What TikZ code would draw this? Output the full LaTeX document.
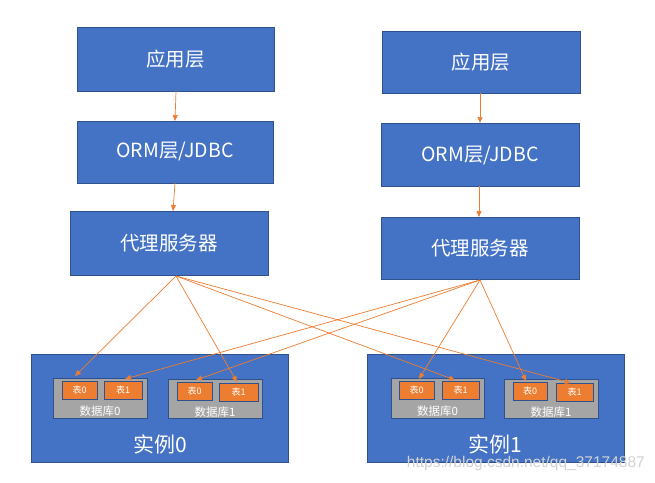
\documentclass[tikz,border=0pt]{standalone}
\usepackage{fontspec}
\setmainfont{Noto Sans CJK SC}
\newfontfamily\wmfont{Liberation Sans}
\usetikzlibrary{arrows.meta}
\definecolor{bblue}{HTML}{4472C4}
\definecolor{bborder}{HTML}{2F528F}
\definecolor{oorange}{HTML}{ED7D31}
\definecolor{ggray}{HTML}{A5A5A5}
\tikzset{
  layer/.style={draw=bborder, fill=bblue, line width=0.8pt},
  dbbox/.style={draw=bborder, fill=ggray, line width=0.8pt},
  tbl/.style={draw=bborder, fill=oorange, line width=0.8pt},
  lbl/.style={text=white, font=\fontsize{19.5}{22}\selectfont, inner sep=0pt},
  dblbl/.style={text=white, font=\fontsize{11.5}{13}\selectfont, inner sep=0pt},
  tbllbl/.style={text=white, font=\fontsize{9}{10}\selectfont, inner sep=0pt},
  conn/.style={draw=oorange, line width=0.7pt, -{Triangle[length=6pt,width=5pt]}},
}
\begin{document}
\begin{tikzpicture}[x=1pt,y=-1pt]
\useasboundingbox (0,0) rectangle (655,482);
\fill[white] (0,0) rectangle (655,482);
% left column
\draw[layer] (77,27) rectangle (274,91);
\node[lbl] (la) at (175.5,59) {应用层};
\coordinate (laB) at (176,91);
\draw[layer] (77,121) rectangle (273,183);
\node[lbl] (lo) at (175,152) {ORM层/JDBC};
\coordinate (loT) at (175,121);
\coordinate (loB) at (175,183);
\draw[layer] (70,211) rectangle (268,275);
\node[lbl] (lp) at (169,243) {代理服务器};
\coordinate (lpT) at (173,211);
\coordinate (lpB) at (176,276);
% right column
\draw[layer] (382,31) rectangle (580,93);
\node[lbl] (ra) at (481,62) {应用层};
\coordinate (raB) at (480,93);
\draw[layer] (381,123) rectangle (579,186);
\node[lbl] (ro) at (480,155) {ORM层/JDBC};
\coordinate (roT) at (480,123);
\coordinate (roB) at (479,186);
\draw[layer] (381,217) rectangle (579,279);
\node[lbl] (rp) at (480,248) {代理服务器};
\coordinate (rpT) at (479,217);
\coordinate (rpB) at (480,280);
% instances
\draw[layer] (31,354) rectangle (288,462);
\node[lbl, font=\fontsize{21}{24}\selectfont] (i0) at (160,444) {实例0};
\draw[layer] (367,354) rectangle (624,462);
\node[lbl, font=\fontsize{21}{24}\selectfont] (i1) at (495,444) {实例1};
% databases instance 0
\draw[dbbox] (53,378) rectangle (147,418);
\node[dblbl] (d00) at (100,411) {数据库0};
\draw[tbl] (62,381) rectangle (97,399);
\node[tbllbl] (t000) at (79.5,390) {表0};
\draw[tbl] (104,381) rectangle (142,399);
\node[tbllbl] (t001) at (123,390) {表1};
\draw[dbbox] (168,379) rectangle (262,418);
\node[dblbl] (d01) at (215,412) {数据库1};
\draw[tbl] (177,382) rectangle (212,400);
\node[tbllbl] (t010) at (194.5,391) {表0};
\draw[tbl] (219,383) rectangle (258,401);
\node[tbllbl] (t011) at (238.5,392) {表1};
% databases instance 1
\draw[dbbox] (391,378) rectangle (484,418);
\node[dblbl] (d10) at (437.5,411) {数据库0};
\draw[tbl] (399,381) rectangle (434,399);
\node[tbllbl] (t100) at (416.5,390) {表0};
\draw[tbl] (442,381) rectangle (479,399);
\node[tbllbl] (t101) at (460.5,390) {表1};
\draw[dbbox] (504,379) rectangle (598,418);
\node[dblbl] (d11) at (551,412) {数据库1};
\draw[tbl] (513,382) rectangle (547,400);
\node[tbllbl] (t110) at (530,391) {表0};
\draw[tbl] (556,383) rectangle (593,401);
\node[tbllbl] (t111) at (574.5,392) {表1};
% arrow end points
\coordinate (e00) at (75,376);
\coordinate (e001) at (125,379);
\coordinate (e010) at (196,380);
\coordinate (e011) at (237,382);
\coordinate (e100) at (419,379);
\coordinate (e101) at (455,380);
\coordinate (e110) at (526,381);
\coordinate (e111) at (571,383);
% vertical arrows
\draw[conn] (laB) -- (loT);
\draw[conn] (loB) -- (lpT);
\draw[conn] (raB) -- (roT);
\draw[conn] (roB) -- (rpT);
% left proxy fan
\draw[conn] (lpB) -- (e00);
\draw[conn] (lpB) -- (e011);
\draw[conn] (lpB) -- (e101);
\draw[conn] (lpB) -- (e111);
% right proxy fan
\draw[conn] (rpB) -- (e001);
\draw[conn] (rpB) -- (e010);
\draw[conn] (rpB) -- (e100);
\draw[conn] (rpB) -- (e110);
% watermark
\node[anchor=east, inner sep=0pt, text=gray!35, font=\wmfont\fontsize{15.5}{17}\selectfont] (wm) at (645,463) {https://blog.csdn.net/qq\_37174887};
\end{tikzpicture}
\end{document}
